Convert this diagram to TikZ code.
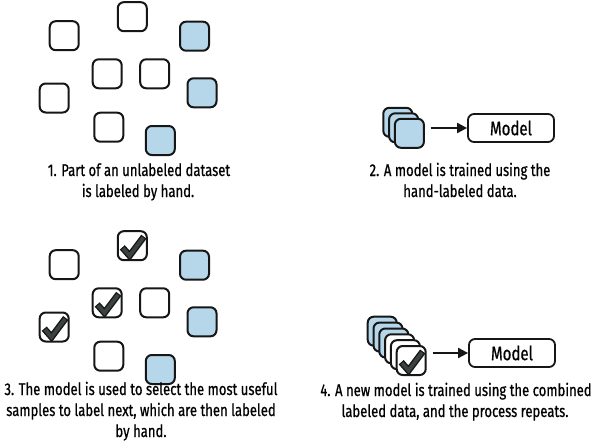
\documentclass[tikz,border=0pt]{standalone}
\usepackage{fontspec}
\setmainfont{Fira Sans}[FakeStretch=0.77]
\newfontfamily\capfam{Fira Sans}[FakeStretch=0.77,FakeBold=0.7]
\usetikzlibrary{arrows.meta}
\definecolor{outline}{RGB}{22,22,22}
\definecolor{cardblue}{RGB}{182,214,234}
\definecolor{checkgray}{RGB}{58,66,66}
\newcommand{\capfont}{\capfam\fontsize{17}{21}\selectfont}
\newcommand{\modelfont}{\capfam\fontsize{19.5}{23}\selectfont}
\tikzset{
  card/.style={draw=outline, line width=2pt, rounded corners=6pt, minimum width=29pt, minimum height=29pt, inner sep=0pt, fill=white},
  bluecard/.style={card, fill=cardblue},
  modelbox/.style={draw=outline, line width=1.8pt, rounded corners=6pt, minimum width=86pt, minimum height=28pt, inner sep=0pt, font=\modelfont},
  caption/.style={anchor=base, inner sep=0pt, font=\capfont},
  flow/.style={draw=outline, line width=2pt, -{Triangle[length=10pt,width=10pt]}},
  checkout/.style={draw=outline, line width=6.6pt, line join=miter},
  checkin/.style={draw=checkgray, line width=3.8pt, line join=miter, shorten <=1.2pt, shorten >=1.2pt}
}
\newcommand{\drawcheck}[1]{%
  \begin{scope}[shift={(#1.center)}]
    \draw[checkout] (-10,1.7) -- (-2.7,10) -- (11.6,-9);
    \draw[checkin] (-10,1.7) -- (-2.7,10) -- (11.6,-9);
  \end{scope}}
\begin{document}
\begin{tikzpicture}[x=1pt,y=-1pt]
\useasboundingbox (0,0) rectangle (600,442);
% ---------- Panel 1 ----------
\node[card] (p1t) at (132.3,16.7) {};
\node[card] (p1a) at (64.2,35.7) {};
\node[bluecard] (p1b) at (194.5,36.2) {};
\node[card] (p1c) at (107.2,73.8) {};
\node[card] (p1d) at (154.7,73.8) {};
\node[card] (p1e) at (54.2,98) {};
\node[bluecard] (p1f) at (202,92.8) {};
\node[card] (p1g) at (108.8,127.2) {};
\node[bluecard] (p1h) at (160.3,140.5) {};
\node[caption] (c1a) at (139,176) {1. Part of an unlabeled dataset};
\node[caption] (c1b) at (138,197) {is labeled by hand.};
% ---------- Panel 2 ----------
\node[bluecard] (s2a) at (397.8,122.3) {};
\node[bluecard] (s2b) at (403.6,127.8) {};
\node[bluecard] (s2c) at (409.4,133.3) {};
\node[modelbox] (m2) at (511,128) {Model};
\draw[flow] ([xshift=6pt]s2c.east |- m2.west) -- (m2.west);
\node[caption] (c2a) at (460,176) {2. A model is trained using the};
\node[caption] (c2b) at (460,197) {hand-labeled data.};
% ---------- Panel 3 ----------
\node[card] (p3t) at (132.3,245.7) {};
\node[card] (p3a) at (64.2,264.7) {};
\node[bluecard] (p3b) at (194.5,265.2) {};
\node[card] (p3c) at (107.2,302.8) {};
\node[card] (p3d) at (154.7,302.8) {};
\node[card] (p3e) at (54.2,327) {};
\node[bluecard] (p3f) at (202,321.8) {};
\node[card] (p3g) at (108.8,356.2) {};
\node[bluecard] (p3h) at (160.3,369.5) {};
\drawcheck{p3t}
\drawcheck{p3c}
\drawcheck{p3e}
\node[caption] (c3a) at (141,395) {3. The model is used to select the most useful};
\node[caption] (c3b) at (141,416) {samples to label next, which are then labeled};
\node[caption] (c3c) at (141,437) {by hand.};
% ---------- Panel 4 ----------
\node[bluecard] (s4a) at (382.2,331.2) {};
\node[bluecard] (s4b) at (388.0,337.1) {};
\node[bluecard] (s4c) at (393.8,343.0) {};
\node[card] (s4d) at (399.6,348.8) {};
\node[card] (s4e) at (405.4,354.7) {};
\node[card] (s4f) at (411.2,360.5) {};
\drawcheck{s4f}
\node[modelbox] (m4) at (512,353) {Model};
\draw[flow] ([xshift=6pt]s4f.east |- m4.west) -- (m4.west);
\node[caption] (c4a) at (456,396) {4. A new model is trained using the combined};
\node[caption] (c4b) at (455,417) {labeled data, and the process repeats.};
\end{tikzpicture}
\end{document}
